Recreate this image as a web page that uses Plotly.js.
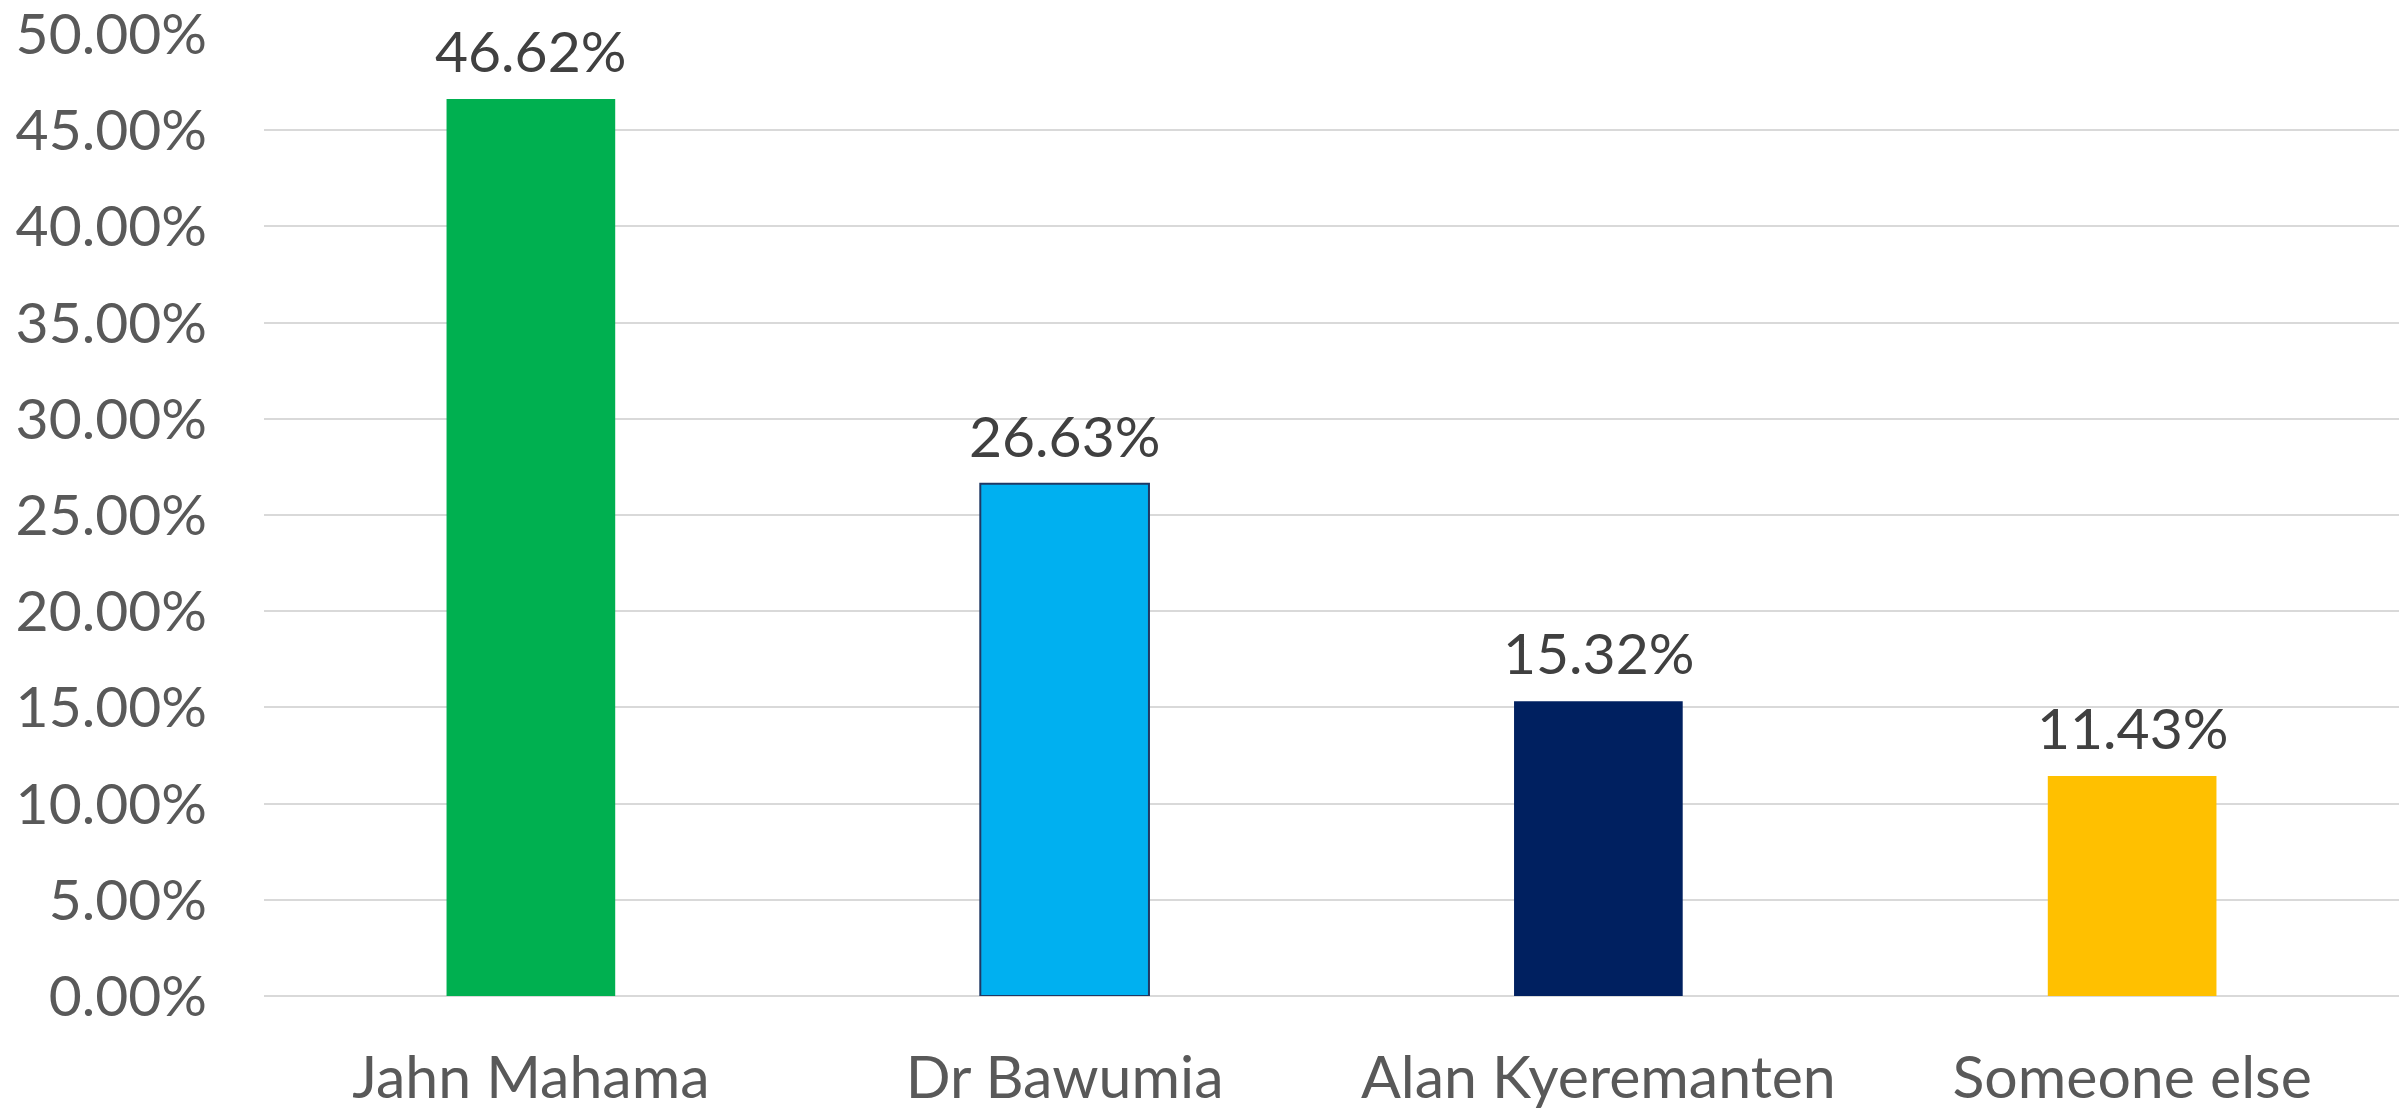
<!DOCTYPE html>
<html>
<head>
<meta charset="utf-8">
<script src="https://cdn.plot.ly/plotly-3.0.1.min.js"></script>
<style>
html,body{margin:0;padding:0;background:#fff;}
#chart{width:2407px;height:1110px;}
</style>
</head>
<body>
<div id="chart"></div>
<script>
const categories = ["Jahn Mahama", "Dr Bawumia", "Alan Kyeremanten", "Someone else"];
const shares = [0.4662, 0.2663, 0.1532, 0.1143];
const barColors = ["#00B050", "#00B0F0", "#002060", "#FFC000"];
const barLineColors = ["#00B050", "#1F3864", "#002060", "#FFC000"];
const yTickValues = [0, 0.05, 0.10, 0.15, 0.20, 0.25, 0.30, 0.35, 0.40, 0.45, 0.50];

const FONT = "Lato, 'Open Sans', sans-serif";

const trace = {
  type: "bar",
  x: categories,
  y: shares,
  marker: {color: barColors, line: {color: barLineColors, width: [0, 2, 0, 0]}},
  hoverinfo: "none"
};

const annotations = categories.map((c, i) => ({
  x: c, y: shares[i], xref: "x", yref: "y",
  text: (shares[i] * 100).toFixed(2) + "%",
  showarrow: false, yanchor: "bottom", yshift: 13,
  font: {family: FONT, size: 57, color: "#404040"}
}));

const layout = {
  width: 2407, height: 1110,
  margin: {l: 264, r: 8, t: 34, b: 114, pad: 0},
  paper_bgcolor: "#ffffff", plot_bgcolor: "#ffffff",
  showlegend: false,
  bargap: 0.684,
  xaxis: {
    type: "category",
    showgrid: false, zeroline: false, showline: false,
    ticks: "", ticklabelstandoff: 42,
    tickfont: {family: FONT, size: 59, color: "#595959"}
  },
  yaxis: {
    range: [0, 0.50005],
    tickvals: yTickValues, tickformat: ".2%",
    ticklabeloverflow: "allow",
    showgrid: true, gridcolor: "#D9D9D9", gridwidth: 2,
    zeroline: true, zerolinecolor: "#D9D9D9", zerolinewidth: 2,
    showline: false, ticks: "", ticklabelstandoff: 56,
    tickfont: {family: FONT, size: 57, color: "#595959"}
  },
  annotations: annotations
};

Plotly.newPlot("chart", [trace], layout, {displayModeBar: false, staticPlot: true});
</script>
</body>
</html>
